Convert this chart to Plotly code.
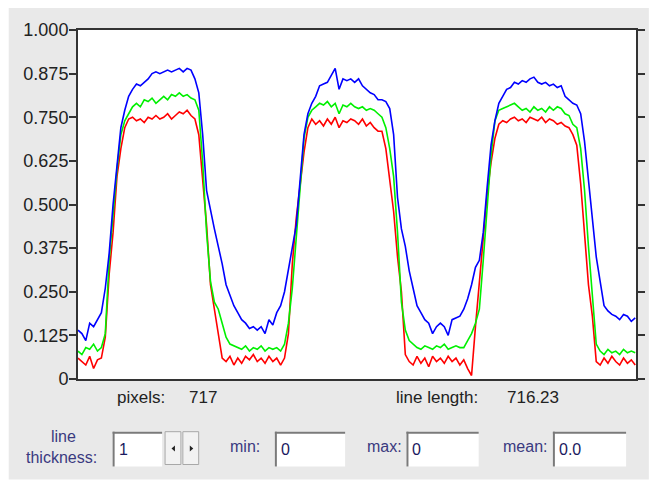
import plotly.graph_objects as go

# ---- data (profile sampled every 5 pixels) ----
pixel_index = list(range(0, 716, 5))
blue_values = [
    0.14, 0.13, 0.11, 0.16, 0.15, 0.17, 0.19, 0.26, 0.36, 0.50,
    0.62, 0.72, 0.77, 0.81, 0.83, 0.845, 0.84, 0.85, 0.86, 0.875,
    0.88, 0.875, 0.88, 0.885, 0.88, 0.885, 0.89, 0.88, 0.89, 0.885,
    0.86, 0.82, 0.70, 0.54, 0.48, 0.43, 0.38, 0.33, 0.27, 0.24,
    0.21, 0.19, 0.17, 0.16, 0.145, 0.15, 0.14, 0.15, 0.13, 0.17,
    0.155, 0.19, 0.21, 0.25, 0.31, 0.37, 0.44, 0.57, 0.70, 0.76,
    0.79, 0.81, 0.84, 0.845, 0.85, 0.87, 0.89, 0.83, 0.86, 0.855,
    0.86, 0.85, 0.86, 0.84, 0.83, 0.82, 0.815, 0.80, 0.80, 0.795,
    0.775, 0.70, 0.52, 0.43, 0.38, 0.31, 0.26, 0.21, 0.19, 0.17,
    0.16, 0.13, 0.15, 0.16, 0.15, 0.125, 0.17, 0.175, 0.18, 0.20,
    0.23, 0.27, 0.32, 0.34, 0.42, 0.55, 0.67, 0.74, 0.79, 0.81,
    0.83, 0.835, 0.85, 0.845, 0.855, 0.85, 0.86, 0.865, 0.85, 0.845,
    0.85, 0.84, 0.845, 0.835, 0.84, 0.81, 0.80, 0.79, 0.785, 0.76,
    0.68, 0.57, 0.44, 0.35, 0.28, 0.21, 0.195, 0.185, 0.18, 0.17,
    0.185, 0.18, 0.165, 0.175,
]
green_values = [
    0.08, 0.07, 0.09, 0.085, 0.10, 0.08, 0.09, 0.13, 0.34, 0.47,
    0.60, 0.70, 0.74, 0.76, 0.78, 0.79, 0.78, 0.80, 0.795, 0.805,
    0.79, 0.80, 0.81, 0.80, 0.815, 0.81, 0.82, 0.81, 0.815, 0.805,
    0.80, 0.77, 0.62, 0.42, 0.28, 0.22, 0.20, 0.16, 0.12, 0.10,
    0.095, 0.09, 0.085, 0.095, 0.08, 0.09, 0.085, 0.095, 0.08, 0.09,
    0.085, 0.09, 0.08, 0.10, 0.16, 0.26, 0.40, 0.56, 0.69, 0.75,
    0.77, 0.78, 0.79, 0.785, 0.795, 0.78, 0.79, 0.76, 0.785, 0.78,
    0.79, 0.78, 0.775, 0.78, 0.77, 0.775, 0.77, 0.76, 0.75, 0.72,
    0.66, 0.58, 0.42, 0.22, 0.14, 0.11, 0.10, 0.09, 0.085, 0.095,
    0.09, 0.085, 0.095, 0.09, 0.10, 0.085, 0.09, 0.095, 0.09, 0.09,
    0.11, 0.13, 0.16, 0.20, 0.34, 0.48, 0.64, 0.74, 0.77, 0.775,
    0.78, 0.785, 0.79, 0.78, 0.77, 0.775, 0.765, 0.78, 0.77, 0.775,
    0.765, 0.78, 0.77, 0.78, 0.775, 0.76, 0.755, 0.73, 0.72, 0.66,
    0.54, 0.38, 0.23, 0.10, 0.08, 0.07, 0.085, 0.075, 0.08, 0.07,
    0.085, 0.075, 0.08, 0.075,
]
red_values = [
    0.06, 0.05, 0.04, 0.065, 0.03, 0.055, 0.06, 0.12, 0.30, 0.42,
    0.58, 0.66, 0.72, 0.745, 0.75, 0.74, 0.745, 0.735, 0.75, 0.745,
    0.755, 0.745, 0.75, 0.76, 0.745, 0.755, 0.765, 0.76, 0.77, 0.755,
    0.745, 0.70, 0.56, 0.44, 0.27, 0.20, 0.12, 0.06, 0.05, 0.065,
    0.04, 0.06, 0.045, 0.065, 0.055, 0.07, 0.05, 0.06, 0.045, 0.065,
    0.05, 0.06, 0.04, 0.06, 0.13, 0.33, 0.46, 0.56, 0.65, 0.72,
    0.745, 0.73, 0.74, 0.725, 0.745, 0.73, 0.75, 0.72, 0.74, 0.735,
    0.745, 0.74, 0.73, 0.745, 0.725, 0.735, 0.72, 0.71, 0.71, 0.66,
    0.575, 0.48, 0.35, 0.25, 0.07, 0.05, 0.04, 0.065, 0.045, 0.06,
    0.035, 0.065, 0.05, 0.06, 0.045, 0.065, 0.05, 0.06, 0.04, 0.055,
    0.03, 0.01, 0.15, 0.27, 0.40, 0.53, 0.62, 0.69, 0.73, 0.74,
    0.735, 0.745, 0.75, 0.74, 0.745, 0.735, 0.75, 0.745, 0.74, 0.75,
    0.735, 0.745, 0.74, 0.73, 0.735, 0.725, 0.72, 0.70, 0.67, 0.56,
    0.42, 0.27, 0.18, 0.05, 0.04, 0.06, 0.045, 0.065, 0.05, 0.04,
    0.06, 0.045, 0.055, 0.04,
]
y_tick_values = [0, 0.125, 0.25, 0.375, 0.5, 0.625, 0.75, 0.875, 1.0]
y_tick_labels = ["0", "0.125", "0.250", "0.375", "0.500", "0.625", "0.750", "0.875", "1.000"]
pixel_count = "717"
line_length = "716.23"

# ---- geometry (page pixels; the page body adds an 8px offset) ----
OFF = 8
W, H = 657 - OFF, 482 - OFF
PL, PR, PT, PB = 78, 642, 28, 379          # plot area in page pixels
L, R, T, B = PL - OFF, PR - OFF, PT - OFF, PB - OFF

def px(x):
    return (x - PL) / (PR - PL)
def py(y):
    return (PB - y) / (PB - PT)

FONT = "Liberation Sans, Arial, sans-serif"
LBL = "#3a3a80"

fig = go.Figure()
for vals, col in [(red_values, "#ff0000"), (green_values, "#00f000"), (blue_values, "#0000ff")]:
    fig.add_trace(go.Scatter(x=pixel_index, y=vals, mode="lines",
                             line=dict(color=col, width=1.6, shape="linear"),
                             hoverinfo="skip", showlegend=False))

shapes = []
shapes.append(dict(type="rect", xref="paper", yref="paper", layer="below",
                   x0=px(8), x1=px(655), y0=py(480), y1=py(4),
                   fillcolor="#e9e9e9", line=dict(width=0)))
shapes.append(dict(type="rect", xref="paper", yref="paper", layer="below",
                   x0=0, x1=1, y0=0, y1=1, fillcolor="white", line=dict(width=0)))

def sunken_box(x0, y0, x1, y1):
    shapes.append(dict(type="rect", xref="paper", yref="paper",
                       x0=px(x0), x1=px(x1), y0=py(y1), y1=py(y0),
                       fillcolor="white", line=dict(width=0)))
    shapes.append(dict(type="line", xref="paper", yref="paper",
                       x0=px(x0), x1=px(x1), y0=py(y0 + 1), y1=py(y0 + 1),
                       line=dict(color="#7a7a7a", width=2)))
    shapes.append(dict(type="line", xref="paper", yref="paper",
                       x0=px(x0 + 1), x1=px(x0 + 1), y0=py(y0), y1=py(y1),
                       line=dict(color="#7a7a7a", width=2)))

sunken_box(113, 432, 163, 467)
sunken_box(277, 432, 348, 467)
sunken_box(410, 432, 483, 467)
sunken_box(558, 432, 632, 467)

for bx0, bx1 in [(166, 182), (184, 200)]:
    shapes.append(dict(type="rect", xref="paper", yref="paper",
                       x0=px(bx0), x1=px(bx1), y0=py(465), y1=py(432),
                       fillcolor="#f2f2f2", line=dict(color="#a8a8a8", width=1)))
shapes.append(dict(type="path", xref="paper", yref="paper",
                   path=f"M {px(176)} {py(446)} L {px(172.5)} {py(449)} L {px(176)} {py(452)} Z",
                   fillcolor="#222", line=dict(width=0)))
shapes.append(dict(type="path", xref="paper", yref="paper",
                   path=f"M {px(191)} {py(446)} L {px(194.5)} {py(449)} L {px(191)} {py(452)} Z",
                   fillcolor="#222", line=dict(width=0)))

ann = []
def text(x, y, s, anchor="left", color="#222", size=17):
    ann.append(dict(x=px(x), y=py(y), xref="paper", yref="paper", text=s,
                    showarrow=False, xanchor=anchor, yanchor="middle",
                    font=dict(family=FONT, size=size, color=color)))

text(115, 398, "pixels:")
text(188, 398, pixel_count)
text(397, 398, "line length:")
text(510, 398, line_length)
text(63, 437, "line", anchor="center", color=LBL, size=16)
text(61, 458, "thickness:", anchor="center", color=LBL, size=16)
text(264, 447, "min:", anchor="right", color=LBL, size=16)
text(408, 447, "max:", anchor="right", color=LBL, size=16)
text(554, 447, "mean:", anchor="right", color=LBL, size=16)
text(117, 450, "1", color="#1a1a60", size=16)
text(281, 450, "0", color="#1a1a60", size=16)
text(414, 450, "0", color="#1a1a60", size=16)
text(562, 450, "0.0", color="#1a1a60", size=16)

fig.update_layout(
    width=W, height=H,
    margin=dict(l=L, r=W - R, t=T, b=H - B, pad=0),
    paper_bgcolor="white", plot_bgcolor="white",
    shapes=shapes, annotations=ann,
    xaxis=dict(range=[0, 716], showgrid=False, zeroline=False, showticklabels=False,
               ticks="", showline=True, linecolor="#333", linewidth=2, mirror=True,
               fixedrange=True),
    yaxis=dict(range=[0, 1], showgrid=False, zeroline=False,
               tickvals=y_tick_values, ticktext=y_tick_labels,
               ticks="outside", ticklen=7, tickwidth=1.5, tickcolor="#333",
               ticklabelstandoff=-3,
               showline=True, linecolor="#333", linewidth=2, mirror="ticks",
               tickfont=dict(family=FONT, size=18, color="#222"), fixedrange=True),
)

fig.write_html("out.html")
